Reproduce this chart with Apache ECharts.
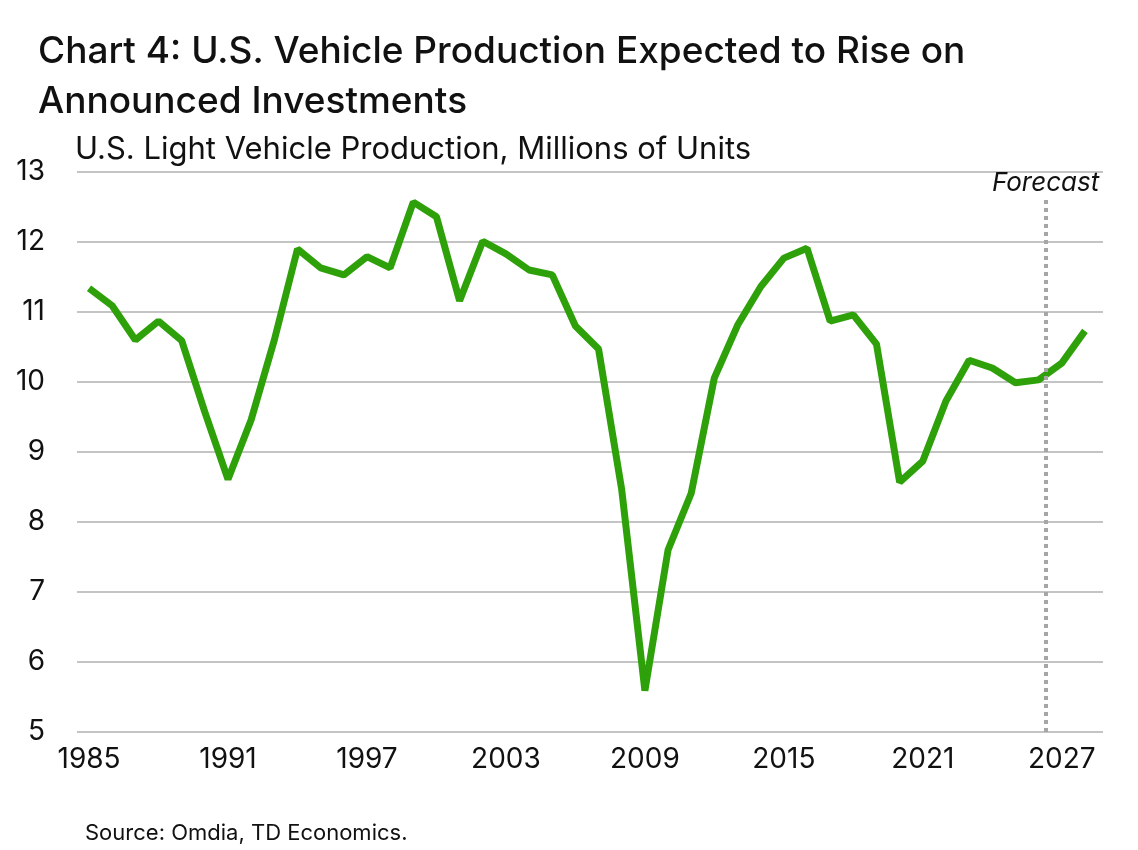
<!DOCTYPE html>
<html>
<head>
<meta charset="utf-8">
<script src="https://cdn.jsdelivr.net/npm/echarts@6/dist/echarts.min.js"></script>
<style>
    body { margin: 0; background: #fff; }
    #chart { width: 1138px; height: 850px; }
</style>
</head>
<body>
<div id="chart"></div>
<script>
let years = [];
for (let y = 1985; y <= 2028; y++) years.push(y);

let production = [
    11.34, 11.09, 10.6, 10.87, 10.59, 9.57, 8.61, 9.46, 10.6, 11.9,
    11.63, 11.53, 11.79, 11.63, 12.57, 12.36, 11.16, 12.01, 11.83, 11.6,
    11.53, 10.8, 10.47, 8.46, 5.59, 7.6, 8.41, 10.06, 10.81, 11.36,
    11.77, 11.91, 10.87, 10.96, 10.54, 8.57, 8.87, 9.73, 10.31, 10.2,
    9.99, 10.03, 10.27, 10.73
];

let tickYears = [1985, 1991, 1997, 2003, 2009, 2015, 2021, 2027];
let forecastAt = 2026.3;

let seriesData = years.map((y, i) => [y, production[i]]);

var myChart = echarts.init(document.getElementById('chart'));

var option = {
    backgroundColor: '#fff',
    textStyle: { fontFamily: 'Inter, sans-serif' },
    title: [
        {
            text: 'Chart 4: U.S. Vehicle Production Expected to Rise on\nAnnounced Investments',
            left: 33, top: 22,
            textStyle: { fontSize: 37, fontWeight: 500, color: '#111', lineHeight: 50 }
        },
        {
            text: 'U.S. Light Vehicle Production, Millions of Units',
            left: 70, top: 129,
            textStyle: { fontSize: 31, fontWeight: 'normal', color: '#111' }
        },
        {
            text: 'Source: Omdia, TD Economics.',
            left: 80, top: 817,
            textStyle: { fontSize: 22, fontWeight: 'normal', color: '#111' }
        }
    ],
    grid: { left: 77, right: 35, top: 172, bottom: 118 },
    xAxis: {
        type: 'value',
        min: 1984.48, max: 2028.78,
        axisLine: { show: false },
        axisTick: { show: false },
        splitLine: { show: false },
        axisLabel: {
            customValues: tickYears,
            fontSize: 28, color: '#111', margin: 14,
            formatter: v => String(v)
        }
    },
    yAxis: {
        type: 'value',
        min: 5, max: 13, interval: 1,
        axisLine: { show: false },
        axisTick: { show: false },
        axisLabel: { fontSize: 28, color: '#111', margin: 32 },
        splitLine: { lineStyle: { color: '#c4c4c4', width: 2 } }
    },
    series: [{
        type: 'line',
        data: seriesData,
        symbol: 'none',
        lineStyle: { color: '#2ea10a', width: 7 },
        markLine: {
            silent: true,
            symbol: 'none',
            lineStyle: { color: '#a6a6a6', type: 'dotted', width: 4 },
            label: {
                show: true, position: 'end', formatter: 'Forecast',
                fontSize: 26, fontStyle: 'italic', color: '#111', distance: 4
            },
            data: [[{ coord: [forecastAt, 5] }, { coord: [forecastAt, 12.6] }]]
        }
    }]
};

myChart.setOption(option);
</script>
</body>
</html>
